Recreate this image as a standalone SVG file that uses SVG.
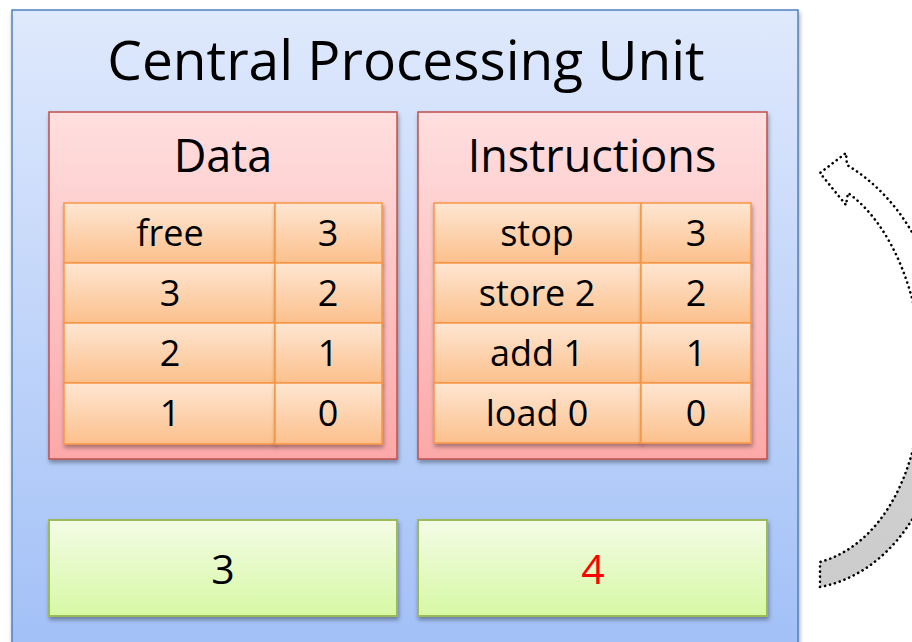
<svg xmlns="http://www.w3.org/2000/svg" width="912" height="642" viewBox="0 0 912 642">
  <defs>
    <linearGradient id="gCpu" x1="0" y1="0" x2="0" y2="1">
      <stop offset="0" stop-color="#dfe9fc"/>
      <stop offset="1" stop-color="#a2c0f7"/>
    </linearGradient>
    <linearGradient id="gPanel" x1="0" y1="0" x2="0" y2="1">
      <stop offset="0" stop-color="#ffdfdf"/>
      <stop offset="1" stop-color="#fca8a8"/>
    </linearGradient>
    <linearGradient id="gCell" x1="0" y1="0" x2="0" y2="1">
      <stop offset="0" stop-color="#fee6d2"/>
      <stop offset="1" stop-color="#fcc08c"/>
    </linearGradient>
    <linearGradient id="gReg" x1="0" y1="0" x2="0" y2="1">
      <stop offset="0" stop-color="#f3fce6"/>
      <stop offset="1" stop-color="#d7f8a4"/>
    </linearGradient>
    <linearGradient id="gArrow" gradientUnits="userSpaceOnUse" x1="0" y1="150" x2="0" y2="590">
      <stop offset="0.55" stop-color="#ffffff"/>
      <stop offset="0.68" stop-color="#d0d0d0"/>
      <stop offset="1" stop-color="#cccccc"/>
    </linearGradient>
    <filter id="shadow" x="-10%" y="-10%" width="120%" height="130%">
      <feDropShadow dx="1" dy="3" stdDeviation="2" flood-color="#000" flood-opacity="0.35"/>
    </filter>
  </defs>
  <style>
    text { font-family: "Open Sans", "Noto Sans", sans-serif; fill: #000; text-anchor: middle; }
    .cpu { fill: url(#gCpu); stroke: #4f81bd; stroke-width: 1.5; }
    .panel { fill: url(#gPanel); stroke: #c0504d; stroke-width: 1.5; filter: url(#shadow); }
    .cell { fill: url(#gCell); stroke: #f79646; stroke-width: 1.5; filter: url(#shadow); }
    .reg { fill: url(#gReg); stroke: #9bbb59; stroke-width: 2; filter: url(#shadow); }
    .title { font-size: 55px; }
    .head { font-size: 45px; }
    .ct { font-size: 36px; }
    .rt { font-size: 41px; }
    .arrow { fill: url(#gArrow); stroke: #000; stroke-width: 2.6; stroke-dasharray: 0.1 5; stroke-linecap: round; stroke-linejoin: round; }
  </style>

  <!-- processor outline -->
  <g id="cpu">
    <rect class="cpu" x="12" y="10" width="786" height="640" filter="url(#shadow)"/>
    <text class="title" x="406" y="80">Central Processing Unit</text>
  </g>

  <!-- data memory -->
  <g id="data">
    <rect class="panel" x="49" y="112" width="348" height="347"/>
    <text class="head" x="223" y="172">Data</text>
    <g id="data-3">
      <rect class="cell" x="64" y="203" width="211" height="60"/>
      <rect class="cell" x="275" y="203" width="107" height="60"/>
      <text class="ct" x="170" y="246">free</text>
      <text class="ct" x="328" y="246">3</text>
    </g>
    <g id="data-2">
      <rect class="cell" x="64" y="263" width="211" height="60"/>
      <rect class="cell" x="275" y="263" width="107" height="60"/>
      <text class="ct" x="170" y="306">3</text>
      <text class="ct" x="328" y="306">2</text>
    </g>
    <g id="data-1">
      <rect class="cell" x="64" y="323" width="211" height="60"/>
      <rect class="cell" x="275" y="323" width="107" height="60"/>
      <text class="ct" x="170" y="366">2</text>
      <text class="ct" x="328" y="366">1</text>
    </g>
    <g id="data-0">
      <rect class="cell" x="64" y="383" width="211" height="61"/>
      <rect class="cell" x="275" y="383" width="107" height="61"/>
      <text class="ct" x="170" y="426">1</text>
      <text class="ct" x="328" y="426">0</text>
    </g>
  </g>

  <!-- instruction memory -->
  <g id="instructions">
    <rect class="panel" x="418" y="112" width="349" height="347"/>
    <text class="head" x="592" y="172">Instructions</text>
    <g id="instr-3">
      <rect class="cell" x="434" y="203" width="207" height="60"/>
      <rect class="cell" x="641" y="203" width="110" height="60"/>
      <text class="ct" x="537" y="246">stop</text>
      <text class="ct" x="696" y="246">3</text>
    </g>
    <g id="instr-2">
      <rect class="cell" x="434" y="263" width="207" height="60"/>
      <rect class="cell" x="641" y="263" width="110" height="60"/>
      <text class="ct" x="537" y="306">store 2</text>
      <text class="ct" x="696" y="306">2</text>
    </g>
    <g id="instr-1">
      <rect class="cell" x="434" y="323" width="207" height="60"/>
      <rect class="cell" x="641" y="323" width="110" height="60"/>
      <text class="ct" x="537" y="366">add 1</text>
      <text class="ct" x="696" y="366">1</text>
    </g>
    <g id="instr-0">
      <rect class="cell" x="434" y="383" width="207" height="60"/>
      <rect class="cell" x="641" y="383" width="110" height="60"/>
      <text class="ct" x="537" y="426">load 0</text>
      <text class="ct" x="696" y="426">0</text>
    </g>
  </g>

  <!-- registers -->
  <g id="accumulator">
    <rect class="reg" x="49" y="520" width="348" height="96"/>
    <text class="rt" x="223" y="584">3</text>
  </g>
  <g id="program-counter">
    <rect class="reg" x="418" y="520" width="349" height="96"/>
    <text class="rt" x="593" y="584" style="fill:#ff0000">4</text>
  </g>

  <!-- fetch cycle: counter back to next instruction -->
  <g id="connectors">
    <path class="arrow" d="M820,587 C900,572 950,480 948,380 C946,270 905,200 847,165 L846,153 L820,173 L846,205 L848,193 C893,225 922,300 922,375 C922,470 882,545 820,562 Z"/>
  </g>
</svg>
